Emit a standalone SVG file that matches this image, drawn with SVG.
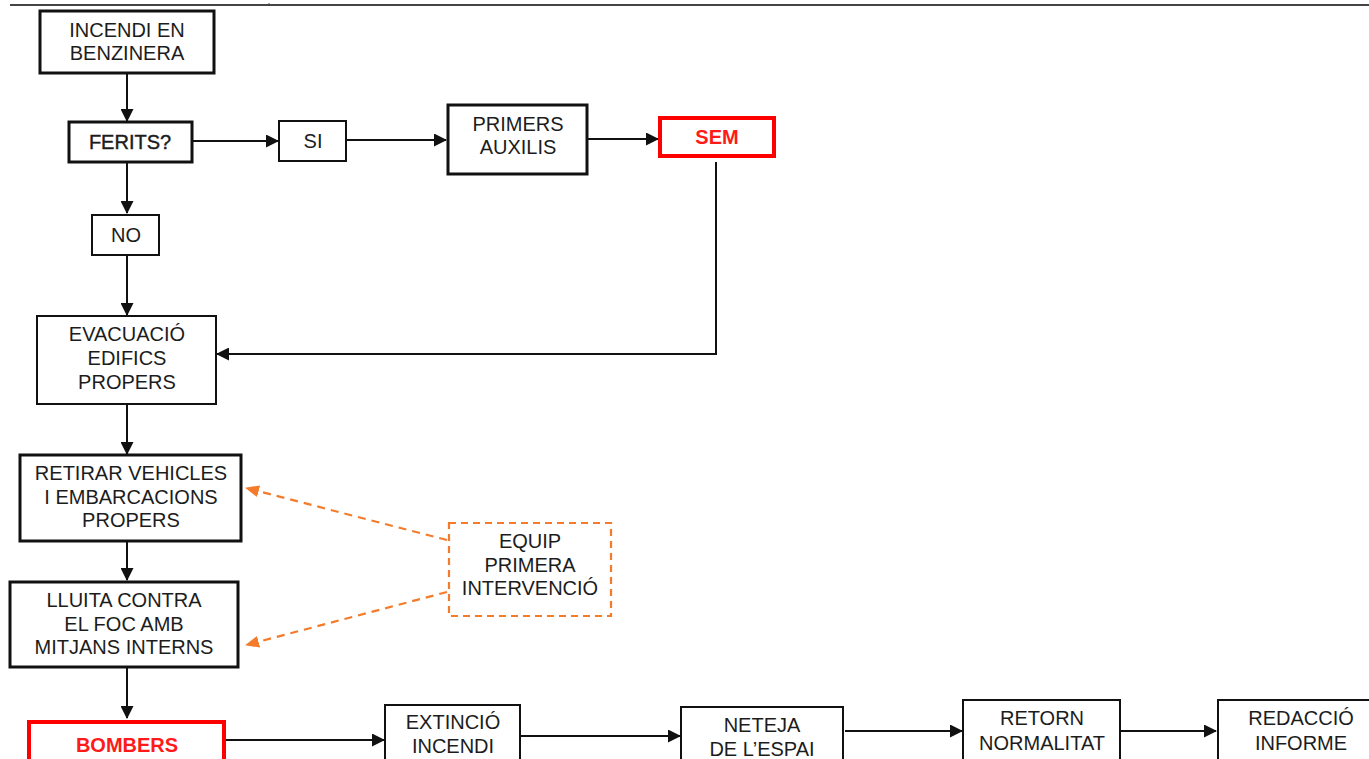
<svg xmlns="http://www.w3.org/2000/svg" width="1369" height="759" viewBox="0 0 1369 759">
<style>
  .box{fill:#fff;stroke:#111;stroke-width:2}
  .thick{stroke-width:3}
  .red{fill:#fff;stroke:#ff0000;stroke-width:4}
  .orange{fill:#fff;stroke:#f47b2a;stroke-width:2.2;stroke-dasharray:7,5}
  .t{font-family:"Liberation Sans",Arial,sans-serif;font-size:20px;fill:#1c1c1c;text-anchor:middle}
  .rt{font-family:"Liberation Sans",Arial,sans-serif;font-size:20px;fill:#ff1a1a;text-anchor:middle;font-weight:bold}
  .c{fill:none;stroke:#111;stroke-width:2}
  .oc{fill:none;stroke:#f47b2a;stroke-width:2.2;stroke-dasharray:8,6}
</style>
<defs>
  <marker id="ah" markerWidth="13" markerHeight="13" refX="12" refY="6.5" orient="auto" markerUnits="userSpaceOnUse">
    <path d="M0,0 L13,6.5 L0,13 Z" fill="#111"/>
  </marker>
  <marker id="oh" markerWidth="14" markerHeight="14" refX="13" refY="7" orient="auto" markerUnits="userSpaceOnUse">
    <path d="M0,1 L14,7 L0,13 Z" fill="#f47b2a"/>
  </marker>
</defs>
<rect width="1369" height="759" fill="#fff"/>
<line x1="10" y1="5" x2="1369" y2="5" stroke="#444" stroke-width="2"/>
<line x1="269" y1="3" x2="269" y2="6" stroke="#444" stroke-width="1"/>

<g id="connectors">
  <line class="c" x1="127" y1="74" x2="127" y2="121" marker-end="url(#ah)"/>
  <line class="c" x1="193" y1="141" x2="278" y2="141" marker-end="url(#ah)"/>
  <line class="c" x1="347" y1="140" x2="446" y2="140" marker-end="url(#ah)"/>
  <line class="c" x1="588" y1="139" x2="658" y2="139" marker-end="url(#ah)"/>
  <polyline class="c" points="716,162 716,354 217,354" marker-end="url(#ah)"/>
  <line class="c" x1="127" y1="163" x2="127" y2="213" marker-end="url(#ah)"/>
  <line class="c" x1="127" y1="256" x2="127" y2="315" marker-end="url(#ah)"/>
  <line class="c" x1="127" y1="405" x2="127" y2="454" marker-end="url(#ah)"/>
  <line class="c" x1="127" y1="542" x2="127" y2="580" marker-end="url(#ah)"/>
  <line class="c" x1="127" y1="668" x2="127" y2="718" marker-end="url(#ah)"/>
  <line class="c" x1="226" y1="740" x2="384" y2="740" marker-end="url(#ah)"/>
  <line class="c" x1="521" y1="736" x2="680" y2="736" marker-end="url(#ah)"/>
  <line class="c" x1="845" y1="731" x2="962" y2="731" marker-end="url(#ah)"/>
  <line class="c" x1="1121" y1="731" x2="1216" y2="731" marker-end="url(#ah)"/>
  <line class="oc" x1="447" y1="540" x2="246" y2="488" marker-end="url(#oh)"/>
  <line class="oc" x1="447" y1="592" x2="246" y2="645" marker-end="url(#oh)"/>
</g>

<g id="incendi">
  <rect class="box thick" x="40" y="11" width="174" height="62"/>
  <text class="t" x="127" y="37">INCENDI EN</text>
  <text class="t" x="127" y="60">BENZINERA</text>
</g>
<g id="ferits">
  <rect class="box thick" x="69" y="122" width="123" height="40"/>
  <text class="t" x="130" y="149" stroke="#1c1c1c" stroke-width="0.4">FERITS?</text>
</g>
<g id="si">
  <rect class="box" x="279" y="121" width="67" height="40"/>
  <text class="t" x="313" y="148">SI</text>
</g>
<g id="primers">
  <rect class="box thick" x="448" y="105" width="139" height="69"/>
  <text class="t" x="518" y="131">PRIMERS</text>
  <text class="t" x="518" y="154">AUXILIS</text>
</g>
<g id="sem">
  <rect class="red" x="660" y="118" width="114" height="38"/>
  <text class="rt" x="717" y="144">SEM</text>
</g>
<g id="no">
  <rect class="box" x="92" y="215" width="67" height="40"/>
  <text class="t" x="126" y="242">NO</text>
</g>
<g id="evacuacio">
  <rect class="box" x="37" y="316" width="179" height="88"/>
  <text class="t" x="127" y="341">EVACUACIÓ</text>
  <text class="t" x="127" y="365">EDIFICS</text>
  <text class="t" x="127" y="389">PROPERS</text>
</g>
<g id="retirar">
  <rect class="box thick" x="20" y="455" width="221" height="86"/>
  <text class="t" x="131" y="480">RETIRAR VEHICLES</text>
  <text class="t" x="131" y="504">I EMBARCACIONS</text>
  <text class="t" x="131" y="527">PROPERS</text>
</g>
<g id="lluita">
  <rect class="box thick" x="10" y="582" width="228" height="85"/>
  <text class="t" x="124" y="607">LLUITA CONTRA</text>
  <text class="t" x="124" y="631">EL FOC AMB</text>
  <text class="t" x="124" y="654">MITJANS INTERNS</text>
</g>
<g id="equip">
  <rect class="orange" x="449" y="523" width="162" height="93"/>
  <text class="t" x="530" y="548">EQUIP</text>
  <text class="t" x="530" y="572">PRIMERA</text>
  <text class="t" x="530" y="595">INTERVENCIÓ</text>
</g>
<g id="bombers">
  <rect class="red" x="29" y="722" width="195" height="50"/>
  <text class="rt" x="127" y="752">BOMBERS</text>
</g>
<g id="extincio">
  <rect class="box" x="385" y="705" width="135" height="70"/>
  <text class="t" x="453" y="729">EXTINCIÓ</text>
  <text class="t" x="453" y="753">INCENDI</text>
</g>
<g id="neteja">
  <rect class="box" x="681" y="707" width="162" height="70"/>
  <text class="t" x="762" y="732">NETEJA</text>
  <text class="t" x="762" y="756">DE L’ESPAI</text>
</g>
<g id="retorn">
  <rect class="box" x="963" y="700" width="157" height="70"/>
  <text class="t" x="1042" y="725">RETORN</text>
  <text class="t" x="1042" y="750">NORMALITAT</text>
</g>
<g id="redaccio">
  <rect class="box" x="1218" y="700" width="160" height="70"/>
  <text class="t" x="1301" y="725">REDACCIÓ</text>
  <text class="t" x="1301" y="750">INFORME</text>
</g>
</svg>
